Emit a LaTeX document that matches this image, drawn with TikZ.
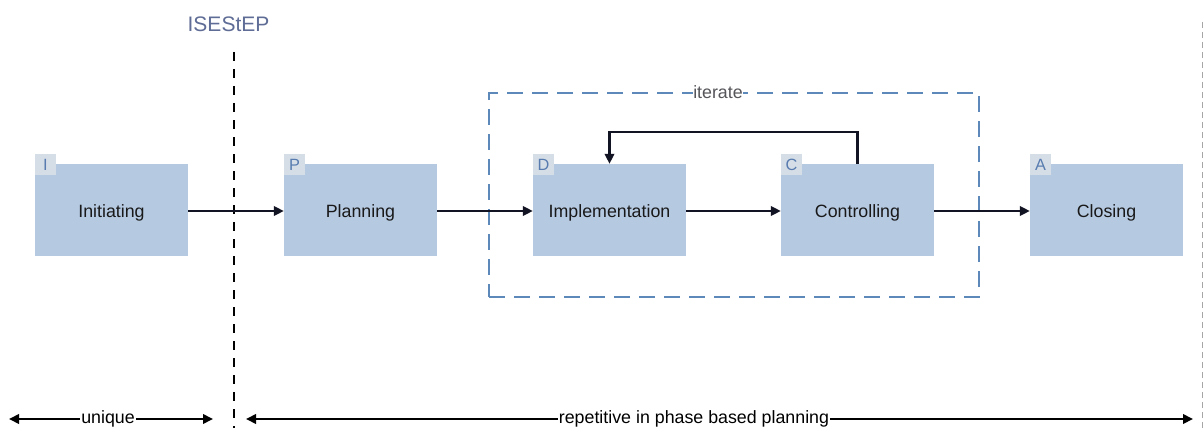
\documentclass[tikz,border=0pt]{standalone}
\usepackage{fontspec}
\setmainfont{Liberation Sans}
\usetikzlibrary{arrows.meta}
\definecolor{boxfill}{RGB}{181,201,225}
\definecolor{tagfill}{RGB}{213,222,230}
\definecolor{tagtext}{RGB}{88,124,176}
\definecolor{itbox}{RGB}{92,136,186}
\definecolor{itgray}{RGB}{85,85,90}
\definecolor{slate}{RGB}{94,108,150}
\definecolor{arr}{RGB}{18,20,36}
\begin{document}
\begin{tikzpicture}[x=1pt,y=-1pt,
  phase/.style={fill=boxfill, draw=none, minimum width=153pt, minimum height=92pt, inner sep=0pt, text height=16.8pt, text depth=2pt, text=black!90, font=\fontsize{17.8}{20}\selectfont},
  tag/.style={fill=tagfill, minimum size=21pt, inner sep=0pt, text=tagtext, font=\fontsize{16.3}{18}\selectfont, anchor=north west},
  flow/.style={draw=arr, line width=2.2pt, -{Triangle[length=10pt,width=9.5pt]}},
  span/.style={draw=black, line width=2pt, {Triangle[length=10pt,width=9.5pt]}-{Triangle[length=10pt,width=9.5pt]}},
  lbl/.style={fill=white, inner sep=1pt, font=\fontsize{17.8}{20}\selectfont}]
\useasboundingbox (0,0) rectangle (1203,428);
\fill[white] (0,0) rectangle (1203,428);

% separators
\coordinate (vt) at (234,52);
\coordinate (vb) at (234,432);
\draw[black, line width=2.4pt, dash pattern=on 9pt off 8pt] (vt) -- (vb);
\node[text=slate, font=\fontsize{21}{24}\selectfont] (ise) at (228.5,24.5) {ISEStEP};
\coordinate (gt) at (1202,22);
\coordinate (gb) at (1202,432);
\draw[gray!70, line width=1pt, dash pattern=on 6pt off 4pt] (gt) -- (gb);

% iterate frame
\node[draw=itbox, line width=2pt, dash pattern=on 16pt off 9pt, minimum width=490pt, minimum height=204pt, inner sep=0pt] (it) at (734,195) {};
\node[lbl, text=itgray, inner sep=0.5pt] (itl) at ([xshift=-16pt]it.north) {iterate};

% phases
\node[phase] (I) at (111.5,210) {Initiating};
\node[phase] (P) at (360.5,210) {Planning};
\node[phase] (D) at (609.5,210) {Implementation};
\node[phase] (C) at (857.5,210) {Controlling};
\node[phase] (A) at (1106.5,210) {Closing};

\node[tag] (tI) at ([yshift=10pt]I.north west) {I};
\node[tag] (tP) at ([yshift=10pt]P.north west) {P};
\node[tag] (tD) at ([yshift=10pt]D.north west) {D};
\node[tag] (tC) at ([yshift=10pt]C.north west) {C};
\node[tag] (tA) at ([yshift=10pt]A.north west) {A};

% flows
\draw[flow] ([yshift=-1pt]I.east) -- ([yshift=-1pt]P.west);
\draw[flow] ([yshift=-1pt]P.east) -- ([yshift=-1pt]D.west);
\draw[flow] ([yshift=-1pt]D.east) -- ([yshift=-1pt]C.west);
\draw[flow] ([yshift=-1pt]C.east) -- ([yshift=-1pt]A.west);
\draw[flow] (C.north) -- ++(0,-32) -| (D.north);

% spans
\coordinate (u1) at (9,419);
\coordinate (u2) at (213,419);
\draw[span] (u1) -- (u2);
\node[lbl] (ul) at (108,419) {unique};
\coordinate (r1) at (246,419);
\coordinate (r2) at (1193,419);
\draw[span] (r1) -- (r2);
\node[lbl] (rl) at (694,419) {repetitive in phase based planning};
\end{tikzpicture}
\end{document}
